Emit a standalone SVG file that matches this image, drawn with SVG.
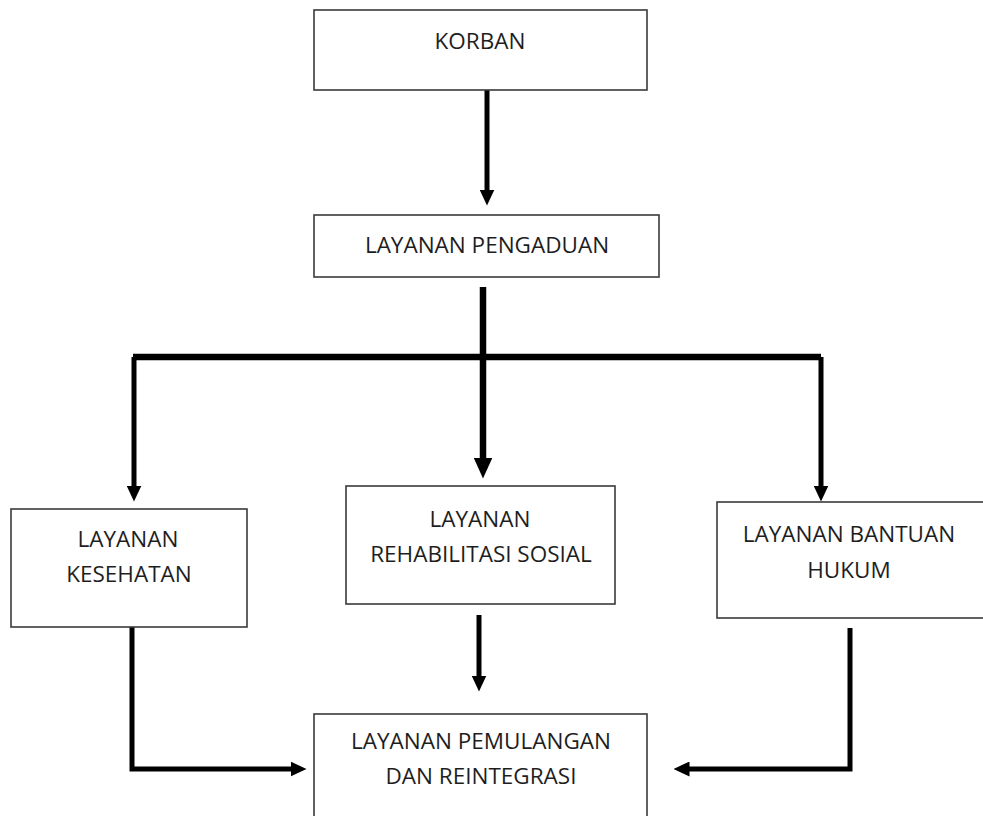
<svg xmlns="http://www.w3.org/2000/svg" width="983" height="816" viewBox="0 0 983 816">
<style>
.box{fill:#fff;stroke:#3a3a3a;stroke-width:1.6}
.t{font-family:"Open Sans","Noto Sans",sans-serif;font-size:22.5px;fill:#1e1e1e;text-anchor:middle}
.c{fill:none;stroke:#000;stroke-width:5}
.ct{fill:none;stroke:#000;stroke-width:6.5}
</style>
<defs>
<marker id="ah" markerUnits="userSpaceOnUse" markerWidth="16" markerHeight="15" viewBox="0 0 16 15" refX="0.5" refY="7.5" orient="auto">
<path d="M0,0 L16,7.5 L0,15 z" fill="#000"/>
</marker>
<marker id="ahL" markerUnits="userSpaceOnUse" markerWidth="21" markerHeight="19" viewBox="0 0 21 19" refX="0.5" refY="9.5" orient="auto">
<path d="M0,0 L21,9.5 L0,19 z" fill="#000"/>
</marker>
</defs>
<rect width="983" height="816" fill="#fff"/>
<g id="connectors">
<path class="c" d="M487,90 V190" marker-end="url(#ah)"/>
<path class="ct" d="M483,287 V458" marker-end="url(#ahL)"/>
<path class="ct" d="M133,357 H821"/>
<path class="c" d="M134,357 V486" marker-end="url(#ah)"/>
<path class="c" d="M821,357 V486" marker-end="url(#ah)"/>
<path class="c" d="M479,615 V676" marker-end="url(#ah)"/>
<path class="c" d="M132,627 V769 H291" marker-end="url(#ah)"/>
<path class="c" d="M850,628 V769 H689" marker-end="url(#ah)"/>
</g>
<g id="korban">
<rect class="box" x="314" y="10" width="333" height="80"/>
<text class="t" x="480" y="49">KORBAN</text>
</g>
<g id="pengaduan">
<rect class="box" x="314" y="215" width="345" height="62"/>
<text class="t" x="487" y="253">LAYANAN PENGADUAN</text>
</g>
<g id="kesehatan">
<rect class="box" x="11" y="509" width="236" height="118"/>
<text class="t" x="128" y="547">LAYANAN</text>
<text class="t" x="129" y="582">KESEHATAN</text>
</g>
<g id="rehabilitasi">
<rect class="box" x="346" y="486" width="269" height="118"/>
<text class="t" x="480" y="527">LAYANAN</text>
<text class="t" x="481" y="562">REHABILITASI SOSIAL</text>
</g>
<g id="bantuan">
<rect class="box" x="717" y="502" width="275" height="116"/>
<text class="t" x="849" y="542">LAYANAN BANTUAN</text>
<text class="t" x="849" y="578">HUKUM</text>
</g>
<g id="pemulangan">
<rect class="box" x="314" y="714" width="333" height="120"/>
<text class="t" x="481" y="749">LAYANAN PEMULANGAN</text>
<text class="t" x="481" y="784">DAN REINTEGRASI</text>
</g>
</svg>
